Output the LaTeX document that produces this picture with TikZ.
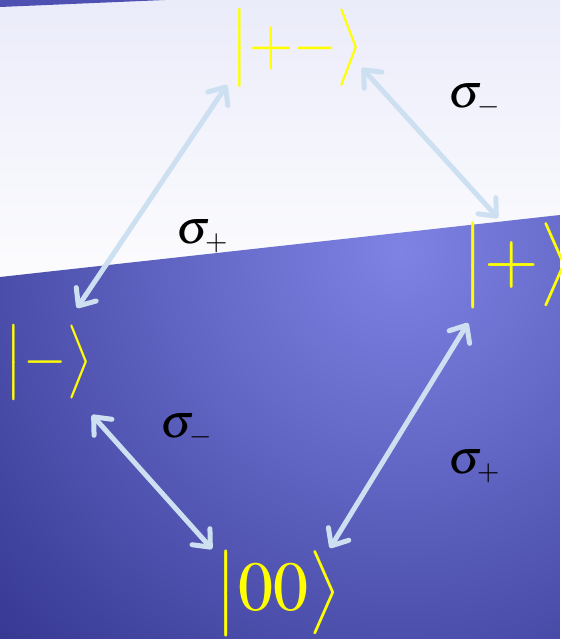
\documentclass[tikz,border=0pt]{standalone}
\usepackage{amsmath}
\usepackage{graphicx}
\usepackage{mathptmx}
\usetikzlibrary{arrows.meta,calc}

\definecolor{ketyellow}{RGB}{255,255,0}
\definecolor{arrowblue}{RGB}{205,224,242}
\definecolor{skytop}{RGB}{235,236,250}
\definecolor{skylow}{RGB}{252,252,254}
\definecolor{bluelight}{RGB}{126,131,228}
\definecolor{bluedark}{RGB}{54,56,146}
\definecolor{stripblue}{RGB}{78,80,178}

\tikzset{
  ket/.style={ketyellow, inner sep=0pt, font=\fontsize{56}{66}\selectfont},
  bigket/.style={ket, font=\fontsize{70}{82}\selectfont},
  lbl/.style={black, inner sep=0pt, font=\fontsize{48}{56}\selectfont},
  link/.style={{Straight Barb[length=14pt,width=24pt,round]}-{Straight Barb[length=14pt,width=24pt,round]},
    line width=5pt, draw=arrowblue}
}

\begin{document}
\begin{tikzpicture}[x=1pt, y=-1pt]
        \useasboundingbox (0,0) rectangle (560,639);
        % background
        \shade[top color=skytop, bottom color=skylow] (0,0) rectangle (560,280);
        \fill[stripblue] (0,0) -- (165,0) -- (0,7) -- cycle;
        \begin{scope}
          \clip (0,277) -- (560,215) -- (560,639) -- (0,639) -- cycle;
          \shade[inner color=bluelight, outer color=bluedark] (400,250) circle (560);
        \end{scope}
        % states
        \node[ket] (pm) at (297,48) {\scalebox{1}[1.15]{$\bigl|+-\bigr\rangle$}};
        \node[bigket] (plus) at (517,265) {$\bigl|+\bigr\rangle$};
        \node[ket] (minus) at (49,362) {\scalebox{1}[1.1]{$\bigl|-\bigr\rangle$}};
        \node[bigket] (zz) at (278,593) {$\bigl|00\bigr\rangle$};
        % transitions
        \draw[link] ($(pm)+(-70,37)$) -- ($(minus)+(28,-54)$);
        \draw[link] ($(pm)+(65,20)$) -- ($(plus)+(-19,-47)$);
        \draw[link] ($(minus)+(43,53)$) -- ($(zz)+(-66,-44)$);
        \draw[link] ($(plus)+(-49,58)$) -- ($(zz)+(52,-45)$);
        % labels
        \node[lbl] (sa) at (474,100) {$\sigma_{\scriptscriptstyle -}$};
        \node[lbl] (sb) at (202,236) {$\sigma_{\scriptscriptstyle +}$};
        \node[lbl] (sc) at (186,430) {$\sigma_{\scriptscriptstyle -}$};
        \node[lbl] (sd) at (474,466) {$\sigma_{\scriptscriptstyle +}$};
\end{tikzpicture}
\end{document}
